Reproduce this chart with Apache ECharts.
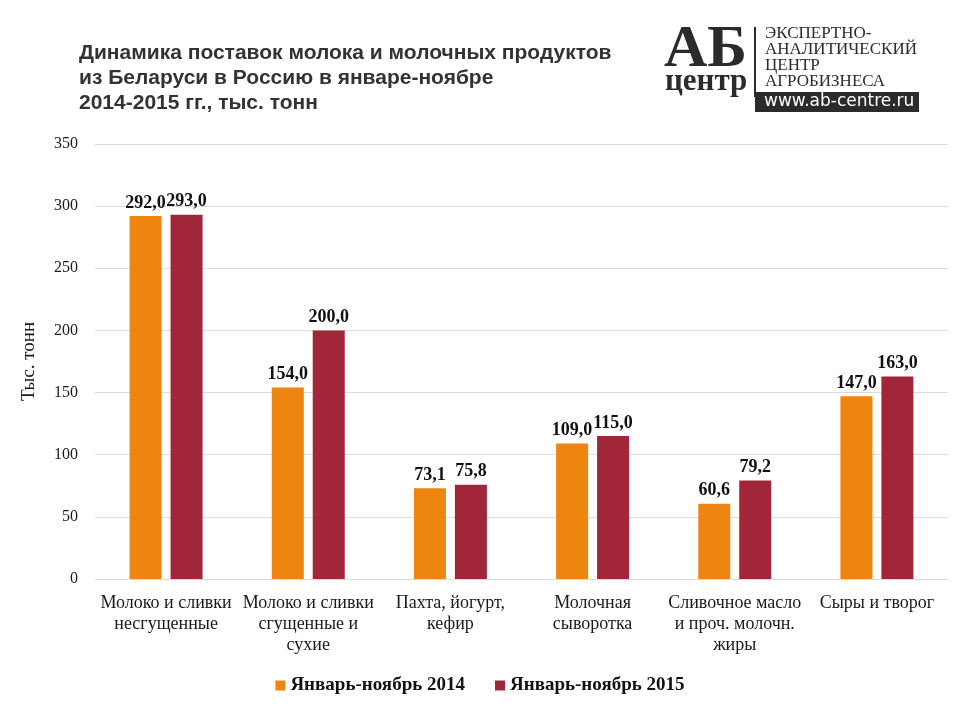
<!DOCTYPE html>
<html>
<head>
<meta charset="utf-8">
<script src="https://cdn.jsdelivr.net/npm/echarts@6/dist/echarts.min.js"></script>
<style>html,body{margin:0;padding:0;background:#fff}#c{width:960px;height:720px}</style>
</head>
<body>
<div id="c"></div>
<script>
const categories = [
  'Молоко и сливки\nнесгущенные',
  'Молоко и сливки\nсгущенные и\nсухие',
  'Пахта, йогурт,\nкефир',
  'Молочная\nсыворотка',
  'Сливочное масло\nи проч. молочн.\nжиры',
  'Сыры и творог'
];
const series2014 = [292.0, 154.0, 73.1, 109.0, 60.6, 147.0];
const series2015 = [293.0, 200.0, 75.8, 115.0, 79.2, 163.0];
const seriesNames = ['Январь-ноябрь 2014', 'Январь-ноябрь 2015'];
const titleLines = 'Динамика поставок молока и молочных продуктов\nиз Беларуси в Россию в январе-ноябре\n2014-2015 гг., тыс. тонн';
const yAxisName = 'Тыс. тонн';

const serif = '"Liberation Serif","DejaVu Serif",serif';
const sans = '"Liberation Sans",Arial,sans-serif';
const fmt = p => p.value.toFixed(1).replace('.', ',');

const chart = echarts.init(document.getElementById('c'), null, {renderer: 'canvas'});
chart.setOption({
  backgroundColor: '#fff',
  animation: false,
  title: {
    text: titleLines,
    left: 74, top: 36,
    textStyle: {fontFamily: sans, fontSize: 21, fontWeight: 'bold', color: '#333', lineHeight: 25}
  },
  legend: {
    bottom: 20, left: 'center',
    itemWidth: 10, itemHeight: 10, itemGap: 30,
    icon: 'rect',
    textStyle: {fontFamily: serif, fontSize: 19, fontWeight: 'bold', color: '#111'},
    data: seriesNames
  },
  grid: {left: 95, right: 12, top: 144, bottom: 141, containLabel: false},
  xAxis: {
    type: 'category',
    data: categories,
    axisLine: {lineStyle: {color: '#d9d9d9'}},
    axisTick: {show: false},
    axisLabel: {fontFamily: serif, fontSize: 18, color: '#1a1a1a', lineHeight: 21, margin: 14, interval: 0}
  },
  yAxis: {
    type: 'value',
    min: 0, max: 350, interval: 50,
    name: yAxisName,
    nameLocation: 'middle',
    nameGap: 56,
    nameRotate: 90,
    nameTextStyle: {fontFamily: serif, fontSize: 19, color: '#1a1a1a'},
    axisLine: {show: false},
    axisTick: {show: false},
    axisLabel: {fontFamily: serif, fontSize: 16, color: '#1a1a1a', margin: 17},
    splitLine: {lineStyle: {color: '#dcdcdc'}}
  },
  series: [
    {
      name: seriesNames[0], type: 'bar', data: series2014,
      barWidth: 32, barGap: '28%',
      itemStyle: {color: '#EE8510'},
      label: {show: true, position: 'top', distance: 4, formatter: fmt,
        fontFamily: serif, fontSize: 18, fontWeight: 'bold', color: '#111'}
    },
    {
      name: seriesNames[1], type: 'bar', data: series2015,
      barWidth: 32,
      itemStyle: {color: '#A1263A'},
      label: {show: true, position: 'top', distance: 4, formatter: fmt,
        fontFamily: serif, fontSize: 18, fontWeight: 'bold', color: '#111'}
    }
  ],
  graphic: [
    {type: 'text', left: 664, top: 20, style: {text: 'АБ', font: 'bold 60px "Liberation Serif", serif', fill: '#2b2b2b'}},
    {type: 'text', left: 665, top: 66, style: {text: 'центр', font: 'bold 31px "Liberation Serif", serif', fill: '#2b2b2b'}},
    {type: 'rect', shape: {x: 754, y: 27, width: 2, height: 70}, style: {fill: '#2b2b2b'}},
    {type: 'text', left: 765, top: 25, style: {text: 'ЭКСПЕРТНО-\nАНАЛИТИЧЕСКИЙ\nЦЕНТР\nАГРОБИЗНЕСА', font: '17px "Liberation Serif", serif', fill: '#2b2b2b', lineHeight: 16}},
    {type: 'rect', shape: {x: 755, y: 92, width: 164, height: 20}, style: {fill: '#2b2b2b'}},
    {type: 'text', left: 764, top: 93, style: {text: 'www.ab-centre.ru', font: '17px "DejaVu Sans", sans-serif', fill: '#fff'}}
  ]
});
</script>
</body>
</html>
